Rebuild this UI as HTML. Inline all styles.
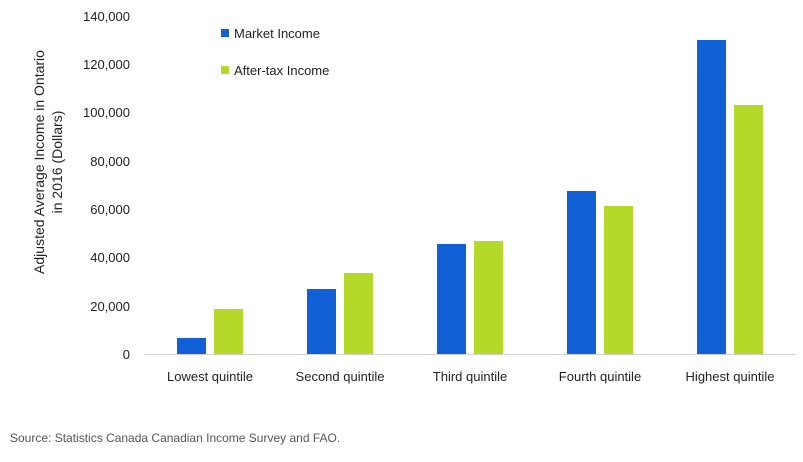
<!DOCTYPE html>
<html><head><meta charset="utf-8"><style>
body{margin:0;background:#fff;}
svg text{font-family:"Liberation Sans",sans-serif;}
</style></head><body>
<svg width="803" height="457" xmlns="http://www.w3.org/2000/svg">
<g font-size="13" fill="#222" text-anchor="end">
<text x="130" y="21">140,000</text>
<text x="130" y="69">120,000</text>
<text x="130" y="117">100,000</text>
<text x="130" y="166">80,000</text>
<text x="130" y="214">60,000</text>
<text x="130" y="262">40,000</text>
<text x="130" y="311">20,000</text>
<text x="130" y="359">0</text>
</g>
<g font-size="14" fill="#222" text-anchor="middle">
<text transform="translate(44,162) rotate(-90)">Adjusted Average Income in Ontario</text>
<text transform="translate(62,162) rotate(-90)">in 2016 (Dollars)</text>
</g>
<line x1="145" y1="354.5" x2="796" y2="354.5" stroke="#d0d0d0" stroke-width="1"/>
<g fill="#1160d6">
<rect x="177" y="338" width="29" height="16"/>
<rect x="307" y="289" width="29" height="65"/>
<rect x="437" y="244" width="29" height="110"/>
<rect x="567" y="191" width="29" height="163"/>
<rect x="697" y="40" width="29" height="314"/>
</g>
<g fill="#b5d929">
<rect x="214" y="309" width="29" height="45"/>
<rect x="344" y="273" width="29" height="81"/>
<rect x="474" y="241" width="29" height="113"/>
<rect x="604" y="206" width="29" height="148"/>
<rect x="734" y="105" width="29" height="249"/>
</g>
<g font-size="13" fill="#222" text-anchor="middle">
<text x="210" y="381">Lowest quintile</text>
<text x="340" y="381">Second quintile</text>
<text x="470" y="381">Third quintile</text>
<text x="600" y="381">Fourth quintile</text>
<text x="730" y="381">Highest quintile</text>
</g>
<rect x="221" y="29" width="8" height="8" fill="#1160d6"/>
<text x="234" y="38" font-size="13" fill="#222">Market Income</text>
<rect x="221" y="66" width="8" height="8" fill="#b5d929"/>
<text x="234" y="75" font-size="13" fill="#222">After-tax Income</text>
<text x="10" y="442" font-size="12" fill="#555">Source: Statistics Canada Canadian Income Survey and FAO.</text>
</svg>
</body></html>
